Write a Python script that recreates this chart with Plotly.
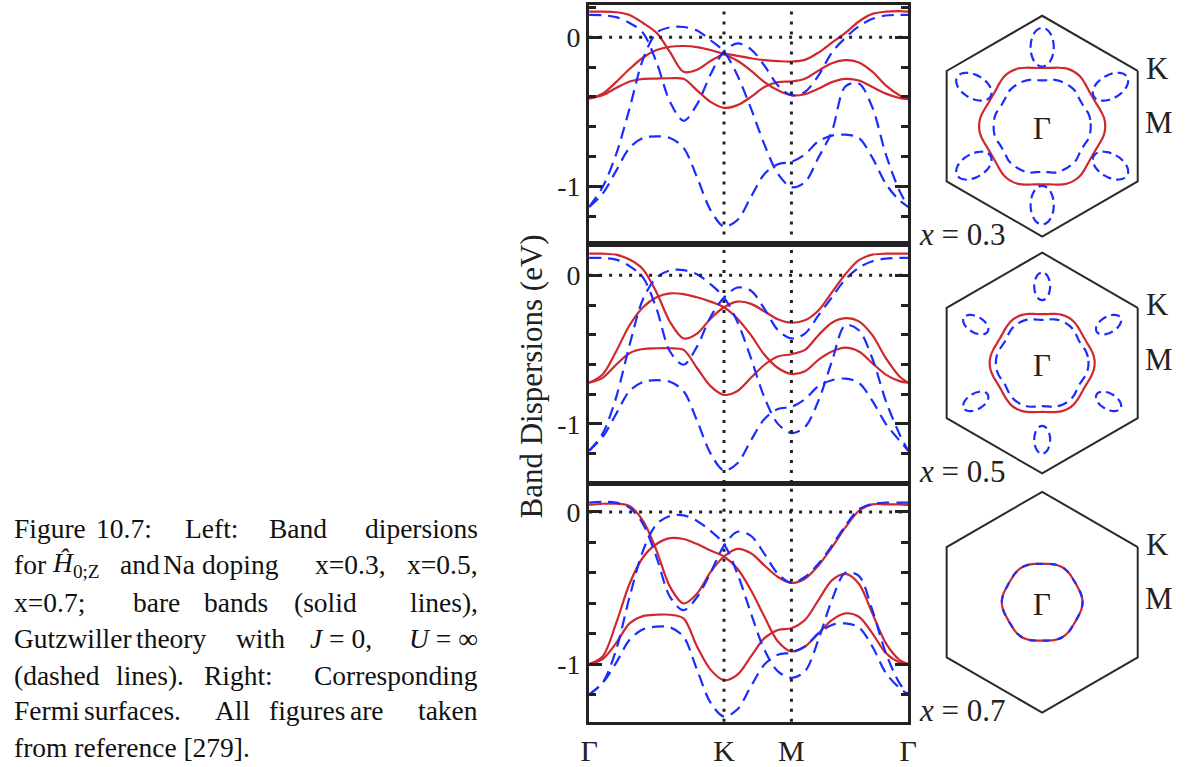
import math
import plotly.graph_objects as go

# ---------------------------------------------------------------------------
# k-path  Γ -> K -> M -> Γ  (distances in units of |ΓK|)
# ---------------------------------------------------------------------------
K_GRID = [0.0, 0.1, 0.2, 0.3, 0.4, 0.5, 0.6, 0.7, 0.8, 0.9, 1.0,
          1.1, 1.2, 1.3, 1.4, 1.5,
          1.6, 1.7, 1.8, 1.9, 2.0, 2.1, 2.2, 2.3, 2.366]
K_TICKS = [0.0, 1.0, 1.5, 2.366]
K_LABELS = ["Γ", "K", "M", "Γ"]

# bare bands (solid), x = 0.3
BARE_03_1 = [0.171, 0.171, 0.167, 0.149, 0.095, 0.029, -0.100, -0.232, -0.218, -0.160, -0.114,
             -0.125, -0.141, -0.154, -0.160, -0.163,
             -0.152, -0.103, -0.037, 0.029, 0.105, 0.156, 0.171, 0.174, 0.171]
BARE_03_2 = [-0.411, -0.378, -0.301, -0.213, -0.136, -0.086, -0.064, -0.059, -0.066, -0.086, -0.114,
             -0.158, -0.224, -0.301, -0.356, -0.389,
             -0.382, -0.345, -0.301, -0.279, -0.290, -0.334, -0.378, -0.407, -0.415]
BARE_03_3 = [-0.411, -0.389, -0.341, -0.297, -0.279, -0.277, -0.275, -0.279, -0.356, -0.433, -0.473,
             -0.455, -0.400, -0.334, -0.301, -0.297,
             -0.279, -0.224, -0.174, -0.154, -0.169, -0.231, -0.323, -0.389, -0.415]
# Gutzwiller bands (dashed), x = 0.3
GUTZ_03_1 = [0.149, 0.147, 0.134, 0.095, 0.029, -0.169, -0.433, -0.560, -0.450, -0.250, -0.095,
             -0.042, -0.081, -0.191, -0.323, -0.389,
             -0.367, -0.257, -0.103, -0.004, 0.073, 0.123, 0.145, 0.149, 0.149]
GUTZ_03_2 = [-1.136, -1.004, -0.785, -0.477, -0.147, 0.029, 0.066, 0.068, 0.045, -0.020, -0.095,
             -0.257, -0.477, -0.719, -0.916, -1.004,
             -0.971, -0.807, -0.631, -0.330, -0.310, -0.470, -0.785, -1.026, -1.136]
GUTZ_03_3 = [-1.136, -1.048, -0.895, -0.741, -0.675, -0.664, -0.675, -0.741, -0.938, -1.158, -1.268,
             -1.224, -1.070, -0.916, -0.851, -0.835,
             -0.785, -0.697, -0.659, -0.653, -0.675, -0.807, -0.982, -1.092, -1.136]

# bare bands, x = 0.5
BARE_05_1 = [0.146, 0.146, 0.139, 0.106, 0.040, -0.115, -0.314, -0.425, -0.392, -0.292, -0.215,
             -0.177, -0.192, -0.243, -0.296, -0.319,
             -0.303, -0.237, -0.115, 0.007, 0.102, 0.139, 0.146, 0.146, 0.146]
BARE_05_2 = [-0.723, -0.668, -0.513, -0.336, -0.215, -0.148, -0.122, -0.126, -0.148, -0.177, -0.215,
             -0.292, -0.403, -0.535, -0.624, -0.664,
             -0.646, -0.569, -0.513, -0.487, -0.513, -0.591, -0.668, -0.712, -0.723]
BARE_05_3 = [-0.723, -0.690, -0.602, -0.524, -0.496, -0.491, -0.491, -0.502, -0.624, -0.746, -0.805,
             -0.779, -0.690, -0.602, -0.546, -0.531,
             -0.502, -0.403, -0.319, -0.288, -0.310, -0.403, -0.558, -0.679, -0.723]
# Gutzwiller bands, x = 0.5
GUTZ_05_1 = [0.117, 0.117, 0.106, 0.062, -0.015, -0.226, -0.513, -0.602, -0.480, -0.280, -0.150,
             -0.082, -0.104, -0.226, -0.369, -0.425,
             -0.392, -0.270, -0.148, -0.027, 0.051, 0.095, 0.113, 0.117, 0.117]
GUTZ_05_2 = [-1.181, -1.066, -0.823, -0.469, -0.159, -0.015, 0.033, 0.035, 0.007, -0.060, -0.148,
             -0.314, -0.558, -0.823, -1.000, -1.062,
             -1.022, -0.845, -0.580, -0.335, -0.370, -0.560, -0.845, -1.066, -1.181]
GUTZ_05_3 = [-1.181, -1.088, -0.934, -0.779, -0.717, -0.706, -0.717, -0.779, -0.978, -1.199, -1.314,
             -1.265, -1.111, -0.967, -0.900, -0.885,
             -0.834, -0.746, -0.706, -0.695, -0.723, -0.845, -1.000, -1.111, -1.181]

# bare bands, x = 0.7
BARE_07_1 = [0.046, 0.054, 0.054, 0.039, -0.059, -0.254, -0.493, -0.602, -0.537, -0.396, -0.293,
             -0.243, -0.272, -0.352, -0.428, -0.467,
             -0.439, -0.352, -0.233, -0.102, 0.007, 0.050, 0.050, 0.050, 0.046]
BARE_07_2 = [-1.000, -0.950, -0.733, -0.472, -0.298, -0.211, -0.172, -0.178, -0.211, -0.254, -0.293,
             -0.374, -0.515, -0.689, -0.852, -0.917,
             -0.885, -0.798, -0.711, -0.667, -0.689, -0.798, -0.928, -0.989, -1.000]
BARE_07_3 = [-1.000, -0.967, -0.863, -0.733, -0.685, -0.676, -0.676, -0.700, -0.885, -1.037, -1.107,
             -1.070, -0.950, -0.830, -0.776, -0.765,
             -0.711, -0.580, -0.450, -0.407, -0.472, -0.667, -0.863, -0.972, -1.000]
# Gutzwiller bands, x = 0.7
GUTZ_07_1 = [0.061, 0.067, 0.061, 0.028, -0.080, -0.298, -0.559, -0.646, -0.560, -0.400, -0.222,
             -0.130, -0.157, -0.276, -0.407, -0.467,
             -0.428, -0.341, -0.222, -0.091, 0.017, 0.054, 0.061, 0.061, 0.061]
GUTZ_07_2 = [-1.200, -1.124, -0.907, -0.559, -0.254, -0.080, -0.026, -0.022, -0.059, -0.124, -0.211,
             -0.407, -0.667, -0.907, -1.048, -1.091,
             -1.048, -0.841, -0.580, -0.400, -0.420, -0.646, -0.928, -1.124, -1.200]
GUTZ_07_3 = [-1.200, -1.124, -0.993, -0.841, -0.772, -0.754, -0.759, -0.820, -1.037, -1.254, -1.346,
             -1.298, -1.146, -1.004, -0.939, -0.924,
             -0.885, -0.798, -0.743, -0.733, -0.759, -0.885, -1.059, -1.157, -1.200]

# ---------------------------------------------------------------------------
# Fermi surfaces: radius (units of |ΓK|) sampled from Γ-M (0°) to Γ-K (30°)
# ---------------------------------------------------------------------------
FS_ANGLES = [0.0, 7.5, 15.0, 22.5, 30.0]
FS_BARE_03 = [0.572, 0.566, 0.548, 0.532, 0.527]
FS_GUTZ_03 = [0.440, 0.440, 0.435, 0.420, 0.415]
FS_BARE_05 = [0.476, 0.472, 0.460, 0.448, 0.443]
FS_GUTZ_05 = [0.420, 0.418, 0.410, 0.397, 0.390]
FS_BARE_07 = [0.366, 0.363, 0.357, 0.350, 0.348]
FS_GUTZ_07 = [0.366, 0.363, 0.357, 0.350, 0.348]
# hole pockets along Γ-K (Gutzwiller only): centre distance, radial / tangential half-axes
POCKET_DIST = [0.715, 0.695]
POCKET_RADIAL = [0.175, 0.125]
POCKET_TANGENTIAL = [0.105, 0.072]

DOPINGS = ["0.3", "0.5", "0.7"]

RED = "#d0282e"
BLUE = "#1a2cff"
INK = "#222222"
SERIF = "Liberation Serif"

W, H = 1193, 767
TEXT_PAD = 6      # left inset plotly leaves before left-anchored caption text


def fx(px):
    return px / W


def fy(px):
    return 1 - px / H


fig = go.Figure()

# ---------------------------------------------------------------------------
# band-dispersion panels
# ---------------------------------------------------------------------------
band_sets = [
    ([BARE_03_1, BARE_03_2, BARE_03_3], [GUTZ_03_1, GUTZ_03_2, GUTZ_03_3]),
    ([BARE_05_1, BARE_05_2, BARE_05_3], [GUTZ_05_1, GUTZ_05_2, GUTZ_05_3]),
    ([BARE_07_1, BARE_07_2, BARE_07_3], [GUTZ_07_1, GUTZ_07_2, GUTZ_07_3]),
]
panel_px = [(5, 248), (248, 490), (490.7, 732.3)]          # top, bottom in pixels
panel_rng = [(-1.388, 0.216), (-1.398, 0.208), (-1.380, 0.186)]
X0, X1 = 589, 913

layout_axes = {}
shapes = []
for i, ((bare, gutz), (top, bot), rng) in enumerate(zip(band_sets, panel_px, panel_rng)):
    n = i + 1
    xa, ya = f"x{n}" if n > 1 else "x", f"y{n}" if n > 1 else "y"
    for band in bare:
        fig.add_trace(go.Scatter(x=K_GRID, y=band, mode="lines", xaxis=xa, yaxis=ya,
                                 line=dict(color=RED, width=2.2, shape="spline", smoothing=0.9),
                                 showlegend=False, hoverinfo="skip"))
    for band in gutz:
        fig.add_trace(go.Scatter(x=K_GRID, y=band, mode="lines", xaxis=xa, yaxis=ya,
                                 line=dict(color=BLUE, width=2.2, shape="spline", smoothing=0.9,
                                           dash="12px,7px"),
                                 showlegend=False, hoverinfo="skip"))
    xaxis = dict(
        domain=[fx(X0), fx(X1)], range=[0, K_TICKS[-1]], anchor=ya,
        showline=True, mirror=True, linewidth=3, linecolor=INK,
        showgrid=False, zeroline=False, ticks="",
    )
    if n == 3:
        xaxis.update(tickmode="array", tickvals=K_TICKS, ticktext=K_LABELS,
                     tickfont=dict(family=SERIF, size=30, color=INK))
    else:
        xaxis.update(showticklabels=False)
    layout_axes[f"xaxis{n}" if n > 1 else "xaxis"] = xaxis
    layout_axes[f"yaxis{n}" if n > 1 else "yaxis"] = dict(
        domain=[fy(bot), fy(top)], range=list(rng), anchor=xa,
        showline=True, mirror="allticks", linewidth=3, linecolor=INK,
        showgrid=False, zeroline=False,
        ticks="inside", ticklen=13, tickwidth=3, tickcolor=INK,
        tickmode="array", tickvals=[0, -1], ticktext=["0", "-1"],
        tickfont=dict(family=SERIF, size=28, color=INK), ticklabelstandoff=0,
        minor=dict(ticks="inside", ticklen=7, tickwidth=3, tickcolor=INK,
                   tickvals=[0.2, -0.2, -0.4, -0.6, -0.8, -1.2]),
    )
    dot = dict(color=INK, width=3, dash="3px,7px")
    shapes.append(dict(type="line", xref=f"{xa} domain", yref=ya, x0=0, x1=1, y0=0, y1=0,
                       line=dot))
    for kv in K_TICKS[1:3]:
        shapes.append(dict(type="line", xref=xa, yref=f"{ya} domain", x0=kv, x1=kv, y0=0, y1=1,
                           line=dot))

# ---------------------------------------------------------------------------
# Fermi-surface panels (hexagonal Brillouin zone, |ΓK| = 1)
# ---------------------------------------------------------------------------
HEX_CX = 1049
HEX_CY = [128, 368.3, 611]
HEX_R = 112
SPAN = 1.05


def unfold(radii):
    step = FS_ANGLES[1] - FS_ANGLES[0]
    xs, ys = [], []
    for j in range(int(round(360 / step)) + 1):
        th = j * step
        phi = th % 60
        if phi > 30:
            phi = 60 - phi
        r = radii[int(round(phi / step))]
        xs.append(r * math.cos(math.radians(th)))
        ys.append(r * math.sin(math.radians(th)))
    return xs, ys


fs_sets = [(FS_BARE_03, FS_GUTZ_03), (FS_BARE_05, FS_GUTZ_05), (FS_BARE_07, FS_GUTZ_07)]
annotations = []
for i, (bare_r, gutz_r) in enumerate(fs_sets):
    n = i + 4
    xa, ya = f"x{n}", f"y{n}"
    cy = HEX_CY[i]
    half = SPAN * HEX_R
    layout_axes[f"xaxis{n}"] = dict(domain=[fx(HEX_CX - half), fx(HEX_CX + half)],
                                    range=[-SPAN, SPAN], visible=False, anchor=ya)
    layout_axes[f"yaxis{n}"] = dict(domain=[fy(cy + half), fy(cy - half)],
                                    range=[-SPAN, SPAN], visible=False, anchor=xa)
    # zone boundary through the six K corners
    corners = [30 + 60 * j for j in range(7)]
    fig.add_trace(go.Scatter(x=[math.cos(math.radians(a)) for a in corners],
                             y=[math.sin(math.radians(a)) for a in corners],
                             mode="lines", xaxis=xa, yaxis=ya, cliponaxis=False,
                             line=dict(color="#2a2a2a", width=2),
                             showlegend=False, hoverinfo="skip"))
    bx, by = unfold(bare_r)
    fig.add_trace(go.Scatter(x=bx, y=by, mode="lines", xaxis=xa, yaxis=ya,
                             line=dict(color=RED, width=2.2, shape="spline", smoothing=1),
                             showlegend=False, hoverinfo="skip"))
    gx, gy = unfold(gutz_r)
    fig.add_trace(go.Scatter(x=gx, y=gy, mode="lines", xaxis=xa, yaxis=ya,
                             line=dict(color=BLUE, width=2.2, shape="spline", smoothing=1,
                                       dash="10px,6px" if i < 2 else "7px,7px"),
                             showlegend=False, hoverinfo="skip"))
    if i < len(POCKET_DIST):
        d, a, b = POCKET_DIST[i], POCKET_RADIAL[i], POCKET_TANGENTIAL[i]
        for j in range(6):
            ang = math.radians(30 + 60 * j)
            ux, uy = math.cos(ang), math.sin(ang)
            px_, py_ = [], []
            for t in range(0, 361, 10):
                tt = math.radians(t)
                px_.append(d * ux + a * math.cos(tt) * ux - b * math.sin(tt) * uy)
                py_.append(d * uy + a * math.cos(tt) * uy + b * math.sin(tt) * ux)
            fig.add_trace(go.Scatter(x=px_, y=py_, mode="lines", xaxis=xa, yaxis=ya,
                                     line=dict(color=BLUE, width=2.2, shape="spline",
                                               dash="9px,5px"),
                                     showlegend=False, hoverinfo="skip"))
    lab_font = dict(family=SERIF, size=31, color=INK)
    annotations += [
        dict(xref=xa, yref=ya, x=0.0, y=-0.02, text="Γ", showarrow=False, font=lab_font,
             xanchor="center", yanchor="middle"),
        dict(xref="paper", yref="paper", x=fx(1152), y=fy(cy - 59), text="K",
             showarrow=False, font=lab_font, xanchor="left", yanchor="middle", align="left"),
        dict(xref="paper", yref="paper", x=fx(1151), y=fy(cy - 4), text="M",
             showarrow=False, font=lab_font, xanchor="left", yanchor="middle", align="left"),
        dict(xref="paper", yref="paper", x=fx(922), y=fy(cy + 110),
             text=f"<i>x</i> = {DOPINGS[i]}", showarrow=False,
             font=dict(family=SERIF, size=31, color=INK), xanchor="left", yanchor="middle",
             align="left"),
    ]

# y-axis title shared by the three band panels
annotations.append(dict(xref="paper", yref="paper", x=fx(531), y=fy(382),
                        text="Band Dispersions (eV)", textangle=-90, showarrow=False,
                        font=dict(family=SERIF, size=31, color=INK),
                        xanchor="center", yanchor="middle"))

# ---------------------------------------------------------------------------
# caption, set word by word so the lines come out justified
# ---------------------------------------------------------------------------
CAP_RIGHT = 478
caption = [
    (536, [(9, "Figure"), (92, "10.7:"), (183, "Left:"), (268, "Band"), (None, "dipersions")]),
    (573, [(9, "for"), (48, "<i>Ĥ</i><sub>0;Z</sub>"), (117, "and"), (160, "Na"),
           (200, "doping"), (315, "x=0.3,"), (None, "x=0.5,")]),
    (611, [(9, "x=0.7;"), (130, "bare"), (202, "bands"), (293, "(solid"), (None, "lines),")]),
    (648, [(9, "Gutzwiller"), (133, "theory"), (234, "with"), (310, "<i>J</i> = 0,"),
           (None, "<i>U</i> = ∞")]),
    (685, [(9, "(dashed"), (113, "lines)."), (202, "Right:"), (None, "Corresponding")]),
    (721, [(9, "Fermi"), (80, "surfaces."), (213, "All"), (268, "figures"), (350, "are"),
           (None, "taken")]),
    (758, [(9, "from reference [279].")]),
]
cap_font = dict(family=SERIF, size=27.5, color="#111111")
for yc, words in caption:
    for xl, word in words:
        left = xl is not None
        xpos = xl - TEXT_PAD if left else CAP_RIGHT
        annotations.append(dict(
            xref="paper", yref="paper", x=fx(xpos), y=fy(yc),
            xanchor="left" if left else "right", align="left" if left else "right",
            yanchor="middle", text=word, showarrow=False, font=cap_font))

fig.update_layout(
    width=W, height=H, margin=dict(l=0, r=0, t=0, b=0),
    paper_bgcolor="white", plot_bgcolor="white",
    showlegend=False, shapes=shapes, annotations=annotations,
    **layout_axes,
)

fig.write_html("out.html")
